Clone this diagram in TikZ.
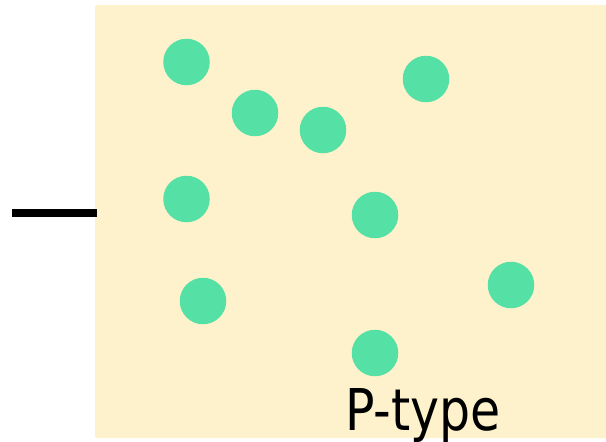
\documentclass[tikz,border=0pt]{standalone}
\usepackage{fontspec}
\setmainfont{DejaVu Sans}
\definecolor{ptbg}{RGB}{253,242,204}
\definecolor{hole}{RGB}{85,224,165}
\begin{document}
\begin{tikzpicture}[x=1pt,y=-1pt,
  hole/.style={circle,fill=hole,draw=none,minimum size=46.5pt,inner sep=0pt},
  wirestyle/.style={line width=8pt,black}]
\useasboundingbox (0,0) rectangle (606,442);
\fill[ptbg,rounded corners=1.5pt] (95,5) rectangle (610,438);
\node[hole] (h1) at (186.5,62) {};
\node[hole] (h2) at (255,113) {};
\node[hole] (h3) at (323,130) {};
\node[hole] (h4) at (426,79) {};
\node[hole] (h5) at (186.5,199) {};
\node[hole] (h6) at (375,215) {};
\node[hole] (h7) at (203,301) {};
\node[hole] (h8) at (511,285) {};
\node[hole] (h9) at (375,353) {};
\coordinate (w1) at (12,213);
\coordinate (w2) at (97,213);
\draw[wirestyle] (w1) -- (w2);
\node[anchor=base west,inner sep=0pt,font=\fontsize{57.6}{60}\selectfont,xscale=0.85] (lbl) at (345,430) {P-type};
\end{tikzpicture}
\end{document}
